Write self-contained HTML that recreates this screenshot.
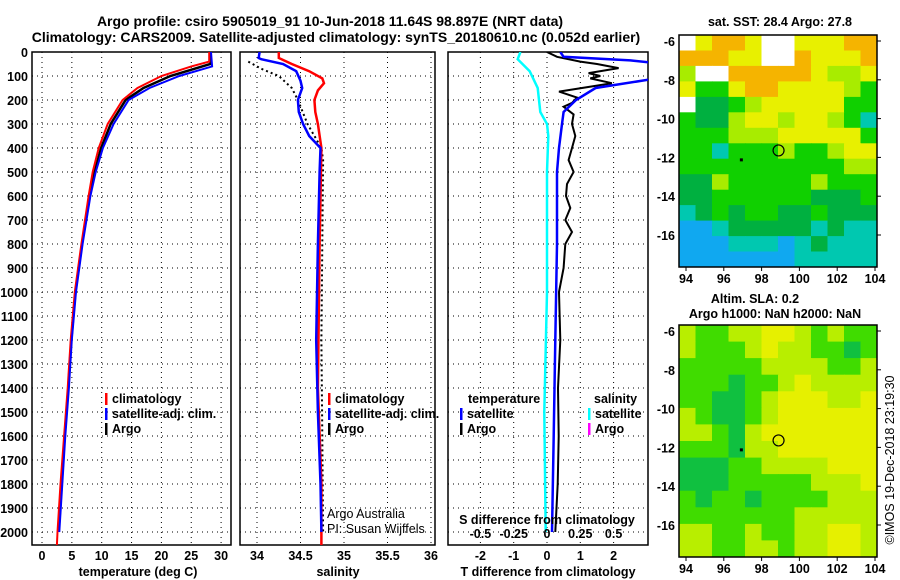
<!DOCTYPE html>
<html><head><meta charset="utf-8">
<style>
html,body{margin:0;padding:0;background:#fff;}
svg{display:block;font-family:"Liberation Sans",sans-serif;}
.b{font-weight:bold;font-size:12.5px;}
.n{font-weight:normal;font-size:12.5px;}
.t{font-weight:bold;font-size:14px;}
</style></head>
<body>
<svg id="c" width="900" height="580" viewBox="0 0 900 580" xmlns="http://www.w3.org/2000/svg"></svg>
<script>
// ---------- data ----------
const depthTicks=[0,100,200,300,400,500,600,700,800,900,1000,1100,1200,1300,1400,1500,1600,1700,1800,1900,2000];
const tempTicks=[0,5,10,15,20,25,30];
const salTicks=[34,34.5,35,35.5,36];
const tdiffTicks=[-2,-1,0,1,2];
const sdiffTicks=[-0.5,-0.25,0,0.25,0.5];
const tempClimDepth=[0,40,60,100,150,200,300,400,500,600,800,1000,1200,1400,1600,1800,2000,2055];
const tempClim=[28,28,25,20,16,13.5,11,9.5,8.5,7.8,6.6,5.5,4.8,4.3,3.7,3.1,2.6,2.5];
const tempSatDepth=[0,60,100,150,200,300,400,500,600,800,1000,1200,1400,1600,1800,2000];
const tempSat=[28.3,28.5,23,18,14.5,12,10.2,9,8.1,6.8,5.7,5,4.5,3.9,3.4,2.9];
const tempArgoDepth=[0,50,100,150,200,300,400,500,600,800,1000,1200,1400,1600,1800,2000];
const tempArgo=[28.2,28.2,21.5,17,14,11.5,9.9,8.8,8,6.7,5.6,4.9,4.4,3.8,3.3,2.8];
const salClimDepth=[0,25,50,80,110,130,160,200,250,300,400,800,1400,1800,2055];
const salClim=[34.25,34.25,34.4,34.6,34.75,34.77,34.7,34.66,34.67,34.7,34.74,34.72,34.7,34.74,34.74];
const salSatDepth=[0,25,30,50,80,120,150,200,250,300,350,400,500,800,1200,1500,1800,2000];
const salSat=[34.03,34.02,34.05,34.3,34.45,34.5,34.52,34.47,34.48,34.53,34.6,34.73,34.72,34.7,34.68,34.7,34.73,34.74];
const salArgoDepth=[40,70,100,150,200,300,400,450,800,1200,1600,2000];
const salArgo=[33.9,34.05,34.25,34.4,34.47,34.58,34.74,34.76,34.75,34.74,34.75,34.76];
const sdiffSatDepth=[0,30,80,150,250,300,350,500,1000,1500,2000];
const sdiffSat=[-0.2,-0.22,-0.13,-0.07,-0.05,0,0.01,0,0,-0.02,-0.01];
const tdiffSatDepth=[0,20,35,45,67,112,150,200,250,300,400,500,800,1200,1600,2000];
const tdiffSat=[0.4,0.5,2.5,3.2,4,3.2,1.46,0.87,0.5,0.45,0.36,0.3,0.3,0.25,0.2,0.15];
const tdiffArgoDepth=[0,20,40,50,67,88,100,110,130,165,190,212,228,260,300,350,400,450,500,550,600,650,700,750,800,900,1000,1200,1400,1600,1800,2000];
const tdiffArgo=[0,0.3,1,1.5,2.15,1.25,1.6,1.3,1.95,0.36,0.9,0.75,0.5,0.8,0.75,0.85,0.75,0.65,0.8,0.6,0.57,0.7,0.55,0.75,0.55,0.5,0.36,0.4,0.33,0.35,0.32,0.25];
const lonTicks=[94,96,98,100,102,104];
const latTicks=[-6,-8,-10,-12,-14,-16];
const sstGrid=[
"WYOOYWWYYYOO","OOOYYWWOYYYO","LWWOOOOOYLLY","YGGYOOYYYYLG","WDDGLYYYYYGG","GDDLYYLYYLGC",
"GGGLLLYYYYYG","GGCGGGLGGLYY","GGGGGGGGGGLL","DDLGGGGGLGGG","DDGGGGGGDDDG","CDGDGGDDGDDD",
"BBCDDDDDCDCC","BBBCCCBCDCCC","BBBBBBBCCCCC"];
const slaGrid=[
"LGGLLYYLGLGG","LGGGLYLLGGDG","GGGGGLLLLGGL","GGGDGGLYLLLL","GGDDGLYYYLLY","LGDDGLYYYYYY",
"LLGDLYYYYYYY","GGGDLLYYYYYY","DDDGGLLLLYYY","DDDGGGGGLLLY","GDGGDGGGGLLL","GGGGGGGLLLLL",
"LLGGLGGLLYYL","LLGGLLGLLYYL"];
const cellColors={W:"#ffffff",O:"#f5b400",Y:"#e8f000",L:"#a8ec00",G:"#10d000",D:"#00b040",C:"#00c8b0",B:"#10a8f0"};
const slaColors={Y:"#e6f000",L:"#b8ee00",G:"#40dc00",D:"#10c040"};
// ---------- helpers ----------
const S=document.getElementById('c');
const NS="http://www.w3.org/2000/svg";
function mk(tag,attrs,parent){const e=document.createElementNS(NS,tag);for(const k in attrs)e.setAttribute(k,attrs[k]);(parent||S).appendChild(e);return e;}
function txt(x,y,s,cls,anchor){const e=mk('text',{x:x,y:y,class:cls||'b','text-anchor':anchor||'middle'});e.textContent=s;return e;}
const yD=d=>52+d*0.24;
const xT=t=>42+t*5.97;
const xS=s=>257+(s-34)*87;
const xTD=d=>547+d*33.3;
const xSD=d=>547+d*4*33.3;
function clip(id,x1,y1,x2,y2){const cp=mk('clipPath',{id:id});mk('rect',{x:x1,y:y1,width:x2-x1,height:y2-y1},cp);}
function line(ds,vs,fx,col,w,cid,dash){
  const pts=ds.map((d,i)=>fx(vs[i]).toFixed(1)+','+yD(d).toFixed(1)).join(' ');
  const a={points:pts,fill:'none',stroke:col,'stroke-width':w,'clip-path':'url(#'+cid+')'};
  if(dash)a['stroke-dasharray']=dash;
  return mk('polyline',a);
}
// ---------- titles ----------
let e;
e=txt(330,26,"Argo profile: csiro 5905019_91 10-Jun-2018 11.64S 98.897E (NRT data)",'t');

e=txt(336,42,"Climatology: CARS2009. Satellite-adjusted climatology: synTS_20180610.nc (0.052d earlier)",'t');

// ---------- profile panels ----------
const panels=[{id:'p1',x1:32,x2:231,ticks:tempTicks,fx:xT,name:'temperature-panel'},
{id:'p2',x1:240,x2:435,ticks:salTicks,fx:xS,name:'salinity-panel'},
{id:'p3',x1:448,x2:648,ticks:tdiffTicks,fx:xTD,name:'difference-panel'}];
panels.forEach(p=>{
  clip(p.id+'c',p.x1,52,p.x2,545);
  const g=mk('g',{});
  
  
  p.ticks.forEach(t=>mk('line',{x1:p.fx(t),x2:p.fx(t),y1:52,y2:545,stroke:'#000','stroke-width':1,'stroke-dasharray':'1,4'},g));
  depthTicks.forEach(d=>mk('line',{x1:p.x1,x2:p.x2,y1:yD(d),y2:yD(d),stroke:'#000','stroke-width':1,'stroke-dasharray':'1,4'},g));
  mk('rect',{x:p.x1,y:52,width:p.x2-p.x1,height:493,fill:'none',stroke:'#000','stroke-width':1.5},g);
  p.ticks.forEach(t=>{const l=txt(p.fx(t),560,String(t));});
});
depthTicks.forEach(d=>{const l=txt(28,yD(d)+5,String(d),'b','end');});
e=txt(138,576,"temperature (deg C)");
e=txt(338,576,"salinity");
e=txt(548,576,"T difference from climatology");
// series
e=line(tempArgoDepth,tempArgo,xT,'#000',2.5,'p1c');
e=line(tempClimDepth,tempClim,xT,'#f00',2,'p1c');
e=line(tempSatDepth,tempSat,xT,'#00f',2,'p1c');
e=line(salArgoDepth,salArgo,xS,'#000',2,'p2c','2,3');
e=line(salClimDepth,salClim,xS,'#f00',2.5,'p2c');
e=line(salSatDepth,salSat,xS,'#00f',2.5,'p2c');
e=line(sdiffSatDepth,sdiffSat,xSD,'#0ff',2.5,'p3c');
e=line(tdiffArgoDepth,tdiffArgo,xTD,'#000',2,'p3c');
e=line(tdiffSatDepth,tdiffSat,xTD,'#00f',2.5,'p3c');
// legends
function leg(x,y,col,label,name){
  const g=mk('g',{});
  
  
  mk('rect',{x:x,y:y-10,width:2.5,height:12,fill:col},g);
  const t=mk('text',{x:x+7,y:y,class:'b'},g);t.textContent=label;
}
leg(105,403,'#f00','climatology','legend-entry-climatology');
leg(105,418,'#00f','satellite-adj. clim.','legend-entry-satellite');
leg(105,433,'#000','Argo','legend-entry-argo');
leg(328,403,'#f00','climatology','legend-entry-sal-climatology');
leg(328,418,'#00f','satellite-adj. clim.','legend-entry-sal-satellite');
leg(328,433,'#000','Argo','legend-entry-sal-argo');
e=txt(468,403,'temperature','b','start');
e=txt(594,403,'salinity','b','start');
leg(460,418,'#00f','satellite','legend-entry-t-satellite');
leg(460,433,'#000','Argo','legend-entry-t-argo');
leg(588,418,'#0ff','satellite','legend-entry-s-satellite');
leg(588,433,'#f0f','Argo','legend-entry-s-argo');
e=txt(327,518,'Argo Australia','n','start');
e=txt(327,533,'PI: Susan Wijffels','n','start');
e=txt(547,524,'S difference from climatology');
sdiffTicks.forEach(t=>{const l=txt(xSD(t),538,String(t));});
// ---------- maps ----------
function map(grid,colors,x1,y1,x2,y2,lat6y,lat16y,name,cid){
  clip(cid,x1,y1,x2,y2);
  const g=mk('g',{'clip-path':'url(#'+cid+')'});
  
  
  const rows=grid.length,cols=grid[0].length;
  const cw=(x2-x1)/cols,ch=(y2-y1)/rows;
  grid.forEach((r,i)=>{for(let j=0;j<cols;j++){
    const c=mk('rect',{x:(x1+j*cw).toFixed(1),y:(y1+i*ch).toFixed(1),width:(cw+0.6).toFixed(1),height:(ch+0.6).toFixed(1),fill:colors[r[j]]},g);
    
  }});
  const xL=lon=>686+(lon-94)*18.9;
  const yL=lat=>lat6y+(-6-lat)*(lat16y-lat6y)/10;
  mk('rect',{x:x1,y:y1,width:x2-x1,height:y2-y1,fill:'none',stroke:'#000','stroke-width':1.5});
  lonTicks.forEach(l=>{mk('line',{x1:xL(l),x2:xL(l),y1:y2,y2:y2+4,stroke:'#000'});const t=txt(xL(l),y2+16,String(l));});
  latTicks.forEach(l=>{mk('line',{x1:x2,x2:x2+4,y1:yL(l),y2:yL(l),stroke:'#000'});const t=txt(x1-4,yL(l)+5,String(l),'b','end');});
  const m=mk('circle',{cx:xL(98.897),cy:yL(-11.64),r:5.5,fill:'none',stroke:'#000','stroke-width':1.2});
  
  mk('rect',{x:xL(96.85),y:yL(-12.05),width:3,height:3,fill:'#000'});
}
map(sstGrid,cellColors,679,35,877,267,41,235,'sst-map','m1');
map(slaGrid,slaColors,679,325,877,557,331,525,'sla-map','m2');
e=txt(780,26,'sat. SST: 28.4 Argo: 27.8');
e=txt(755,303,'Altim. SLA: 0.2');
e=txt(775,318,'Argo h1000: NaN h2000: NaN');
e=mk('text',{x:0,y:0,'font-size':'12.5','text-anchor':'middle',transform:'translate(894,460) rotate(-90)'});
e.textContent='©IMOS 19-Dec-2018 23:19:30';


</script>
</body></html>
